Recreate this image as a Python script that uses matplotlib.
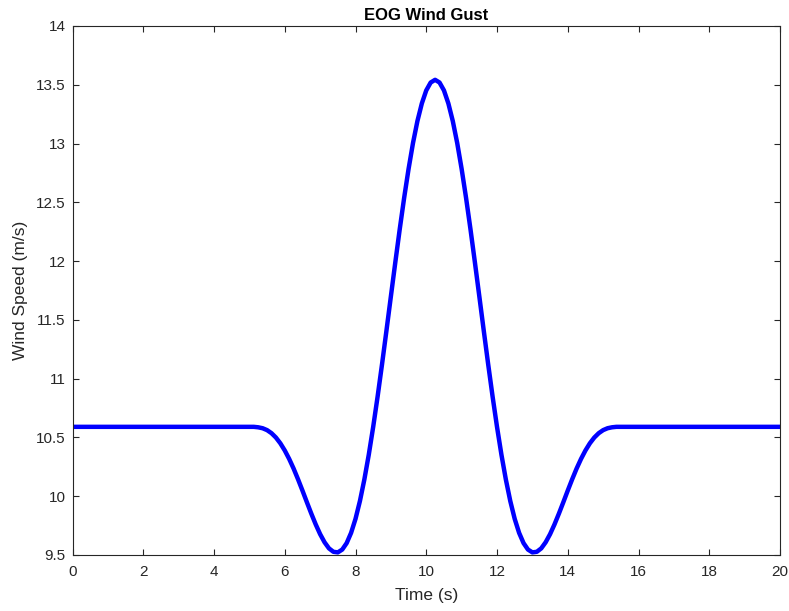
import numpy as np
import matplotlib.pyplot as plt

plt.rcParams['font.family'] = ['Liberation Sans', 'DejaVu Sans']

gust_speed = [10.590, 10.590, 10.586, 10.578, 10.562, 10.536, 10.499, 10.450,
              10.389, 10.317, 10.235, 10.144, 10.048, 9.949, 9.852, 9.760,
              9.677, 9.608, 9.556, 9.527, 9.522, 9.546, 9.601, 9.688,
              9.807, 9.959, 10.142, 10.353, 10.590, 10.848, 11.123, 11.409,
              11.700, 11.989, 12.271, 12.538, 12.784, 13.004, 13.191, 13.341,
              13.452, 13.519, 13.542,
              13.519, 13.452, 13.341, 13.191, 13.004, 12.784, 12.538, 12.271,
              11.989, 11.700, 11.409, 11.123, 10.848, 10.590, 10.353, 10.142,
              9.959, 9.807, 9.688, 9.601, 9.546, 9.522, 9.527, 9.556,
              9.608, 9.677, 9.760, 9.852, 9.949, 10.048, 10.144, 10.235,
              10.317, 10.389, 10.450, 10.499, 10.536, 10.562, 10.578, 10.586,
              10.590, 10.590]
gust_time = np.arange(5.0, 15.5001, 0.125)

# steady wind before and after the gust
time = np.concatenate([[0.0], gust_time, [20.0]])
speed = np.concatenate([[10.59], gust_speed, [10.59]])

fig = plt.figure(figsize=(7.89, 6.11), dpi=100)
ax = fig.add_axes([0.0919, 0.0917, 0.8967, 0.8658])
ax.plot(time, speed, color='b', linewidth=3.2, solid_joinstyle='round')
ax.set_xlim(0, 20)
ax.set_ylim(9.5, 14)
ax.set_xticks(np.arange(0, 21, 2))
ax.set_yticks(np.arange(9.5, 14.01, 0.5))
ax.set_yticklabels(['9.5', '10', '10.5', '11', '11.5', '12', '12.5', '13', '13.5', '14'])
ax.tick_params(direction='in', top=True, right=True, length=4, width=0.8,
               labelsize=11, colors='#262626')
ax.tick_params(axis='x', pad=7)
ax.tick_params(axis='y', pad=5)
for s in ax.spines.values():
    s.set_color('#262626')
    s.set_linewidth(0.8)
ax.set_xlabel('Time (s)', fontsize=12.5, color='#262626')
ax.set_ylabel('Wind Speed (m/s)', fontsize=12.5, color='#262626')
ax.xaxis.set_label_coords(0.5, -0.062)
ax.yaxis.set_label_coords(-0.063, 0.5)
ax.set_title('EOG Wind Gust', fontsize=12, fontweight='bold', pad=4)

fig.savefig('out.png', dpi=100)
